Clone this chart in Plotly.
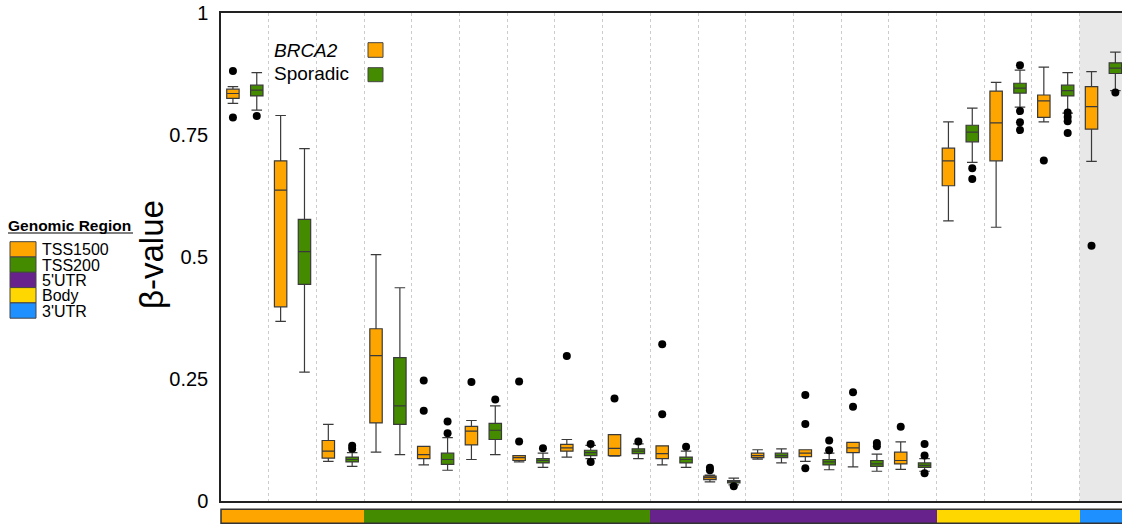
import plotly.graph_objects as go

# Probe groups (left to right) and their genomic region
regions = ["TSS1500"] * 3 + ["TSS200"] * 6 + ["5'UTR"] * 6 + ["Body"] * 3 + ["3'UTR"] * 1
region_names = ["TSS1500", "TSS200", "5'UTR", "Body", "3'UTR"]
region_colors = {"TSS1500": "#FFA500", "TSS200": "#458B00", "5'UTR": "#68228B",
                 "Body": "#FFD700", "3'UTR": "#1E90FF"}

# BRCA2 carriers: box statistics per probe group
brca2_low = [0.815, 0.368, 0.081, 0.100, 0.074, 0.085, 0.080, 0.090, 0.092, 0.074,
             0.039, 0.086, 0.081, 0.070, 0.065, 0.574, 0.561, 0.777, 0.696]
brca2_q1 = [0.825, 0.398, 0.088, 0.160, 0.087, 0.115, 0.083, 0.102, 0.093, 0.087,
            0.044, 0.089, 0.091, 0.099, 0.076, 0.646, 0.697, 0.786, 0.762]
brca2_med = [0.835, 0.637, 0.102, 0.298, 0.095, 0.143, 0.089, 0.109, 0.108, 0.097,
             0.048, 0.093, 0.098, 0.109, 0.083, 0.697, 0.775, 0.820, 0.808]
brca2_q3 = [0.844, 0.697, 0.124, 0.353, 0.112, 0.153, 0.093, 0.116, 0.136, 0.113,
            0.051, 0.098, 0.105, 0.120, 0.100, 0.723, 0.840, 0.832, 0.849]
brca2_high = [0.849, 0.790, 0.157, 0.505, 0.112, 0.165, 0.093, 0.126, 0.136, 0.113,
              0.053, 0.105, 0.105, 0.120, 0.121, 0.777, 0.858, 0.889, 0.880]
brca2_out = [[0.881, 0.786], [], [], [], [0.247, 0.185], [0.244], [0.245, 0.122], [0.297],
             [0.210], [0.321, 0.178], [0.068, 0.063], [], [0.217, 0.158, 0.067],
             [0.223, 0.193], [0.152], [], [], [0.698], [0.523]]

# Sporadic cases: box statistics per probe group
spor_low = [0.801, 0.264, 0.071, 0.095, 0.063, 0.095, 0.069, 0.087, 0.087, 0.069,
            0.033, 0.078, 0.064, 0.061, 0.061, 0.694, 0.807, 0.795, 0.841]
spor_q1 = [0.830, 0.444, 0.080, 0.157, 0.075, 0.126, 0.078, 0.093, 0.097, 0.078,
           0.037, 0.089, 0.074, 0.071, 0.069, 0.736, 0.836, 0.830, 0.876]
spor_med = [0.842, 0.511, 0.085, 0.195, 0.085, 0.145, 0.083, 0.099, 0.102, 0.085,
            0.041, 0.093, 0.080, 0.076, 0.073, 0.756, 0.846, 0.841, 0.887]
spor_q3 = [0.852, 0.577, 0.090, 0.294, 0.098, 0.159, 0.087, 0.104, 0.107, 0.090,
           0.042, 0.098, 0.085, 0.083, 0.078, 0.770, 0.856, 0.852, 0.898]
spor_high = [0.878, 0.722, 0.099, 0.437, 0.130, 0.195, 0.098, 0.114, 0.117, 0.102,
             0.047, 0.107, 0.098, 0.096, 0.087, 0.805, 0.883, 0.878, 0.920]
spor_out = [[0.789], [], [0.113, 0.107], [], [0.163, 0.139], [0.208], [0.108], [0.117, 0.080],
            [0.122], [0.111], [0.030], [], [0.124, 0.104], [0.119, 0.112],
            [0.117, 0.093, 0.057], [0.682, 0.660], [0.893, 0.799, 0.776, 0.760],
            [0.796, 0.787, 0.778, 0.754], [0.837]]

y_ticks = [0, 0.25, 0.5, 0.75, 1]
y_tick_labels = ["0", "0.25", "0.5", "0.75", "1"]

ORANGE = "#FFA500"
GREEN = "#458B00"
FONT = "Liberation Sans, Arial, sans-serif"

W, H = 1122, 525
M_L, M_T = 221, 13
PW, PH = W - M_L, H - M_T


def px(xp):
    return (xp - M_L) / PW


def py(yp):
    return (H - yp) / PH


n = len(regions)
pos = list(range(1, n + 1))
shift = 0.25

fig = go.Figure()

fig.add_trace(go.Box(
    x=[p - shift for p in pos], q1=brca2_q1, median=brca2_med, q3=brca2_q3,
    lowerfence=brca2_low, upperfence=brca2_high, width=0.26, whiskerwidth=0.85,
    fillcolor=ORANGE, line=dict(color="#3a3a3a", width=1.2), boxpoints=False,
    name="BRCA2", showlegend=False, hoverinfo="skip"))
fig.add_trace(go.Box(
    x=[p + shift for p in pos], q1=spor_q1, median=spor_med, q3=spor_q3,
    lowerfence=spor_low, upperfence=spor_high, width=0.26, whiskerwidth=0.85,
    fillcolor=GREEN, line=dict(color="#3a3a3a", width=1.2), boxpoints=False,
    name="Sporadic", showlegend=False, hoverinfo="skip"))

# Outlying samples
ox, oy = [], []
for p, vals in zip(pos, brca2_out):
    ox += [p - shift] * len(vals)
    oy += vals
for p, vals in zip(pos, spor_out):
    ox += [p + shift] * len(vals)
    oy += vals
fig.add_trace(go.Scatter(x=ox, y=oy, mode="markers",
                         marker=dict(color="black", size=8, line=dict(width=0)),
                         showlegend=False, hoverinfo="skip"))

# Genomic region colour strip under the plot
fig.add_trace(go.Bar(x=pos, y=[1] * n, base=0, width=1,
                     marker=dict(color=[region_colors[r] for r in regions], line=dict(width=0)),
                     xaxis="x2", yaxis="y2", showlegend=False, hoverinfo="skip"))

x_range = [0.5, 0.5 + PW / 47.7]
main_bottom = py(501)

shapes = [
    # 3'UTR panel shading
    dict(type="rect", xref="x", yref="y", x0=n - 0.5, x1=n + 0.5, y0=0, y1=1,
         fillcolor="#e8e8e8", line=dict(width=0), layer="below"),
    # strip outline
    dict(type="rect", xref="paper", yref="y2 domain", x0=0, x1=1.05, y0=0, y1=1,
         line=dict(color="#333333", width=1.5), fillcolor="rgba(0,0,0,0)"),
    # underline of region legend title
    dict(type="line", xref="paper", yref="paper", x0=px(8), x1=px(133), y0=py(233), y1=py(233),
         line=dict(color="#555555", width=1.5)),
]

annotations = [
    dict(text="β-value", xref="paper", yref="paper", x=px(151), y=py(255), textangle=-90,
         showarrow=False, font=dict(family=FONT, size=33, color="black"),
         xanchor="center", yanchor="middle"),
    dict(text="<b>Genomic Region</b>", xref="paper", yref="paper", x=px(6), y=py(225),
         showarrow=False, font=dict(family=FONT, size=15.5, color="black"),
         xanchor="left", yanchor="middle"),
    dict(text="<i>BRCA2</i>", xref="paper", yref="paper", x=px(272), y=py(50),
         showarrow=False, font=dict(family=FONT, size=19, color="black"),
         xanchor="left", yanchor="middle"),
    dict(text="Sporadic", xref="paper", yref="paper", x=px(272), y=py(73),
         showarrow=False, font=dict(family=FONT, size=19, color="black"),
         xanchor="left", yanchor="middle"),
]

# Series key squares
for (y0, y1), col in zip([(42.7, 57.3), (67.7, 81.7)], [ORANGE, GREEN]):
    shapes.append(dict(type="rect", xref="paper", yref="paper", x0=px(368), x1=px(383),
                       y0=py(y1), y1=py(y0), fillcolor=col,
                       line=dict(color="#444444", width=1)))

# Region key
top, step = 241.7, 15.3
for i, name in enumerate(region_names):
    y0 = top + i * step
    shapes.append(dict(type="rect", xref="paper", yref="paper", x0=px(10), x1=px(36),
                       y0=py(y0 + step), y1=py(y0), fillcolor=region_colors[name],
                       line=dict(color="#444444", width=1)))
    annotations.append(dict(text=name, xref="paper", yref="paper", x=px(40), y=py(y0 + step / 2 + 0.5),
                            showarrow=False, font=dict(family=FONT, size=16, color="black"),
                            xanchor="left", yanchor="middle"))

fig.update_layout(
    template="none",
    width=W, height=H,
    margin=dict(l=M_L, r=0, t=M_T, b=0, autoexpand=False),
    paper_bgcolor="white", plot_bgcolor="white",
    font=dict(family=FONT, color="black"),
    boxmode="overlay",
    bargap=0,
    xaxis=dict(range=x_range, domain=[0, 1], anchor="y", automargin=False,
               tickvals=[p + 0.5 for p in pos[:-1]], showticklabels=False, ticks="",
               showgrid=True, gridcolor="#cccccc", griddash="dot", gridwidth=1,
               showline=True, linecolor="#222222", linewidth=1.5, mirror=True, zeroline=False),
    yaxis=dict(range=[0, 1], domain=[main_bottom, 1], anchor="x", automargin=False,
               tickvals=y_ticks, ticktext=y_tick_labels, ticks="outside", ticklen=7,
               tickcolor="rgba(0,0,0,0)", tickfont=dict(size=20, family=FONT, color="black"),
               showgrid=False, zeroline=False,
               showline=True, linecolor="#222222", linewidth=1.5),
    xaxis2=dict(range=x_range, matches="x", anchor="y2", visible=False, automargin=False),
    yaxis2=dict(range=[0, 1], domain=[py(523.3), py(509.3)], anchor="x2", visible=False,
                automargin=False),
    shapes=shapes,
    annotations=annotations,
)

fig.write_html("out.html")
